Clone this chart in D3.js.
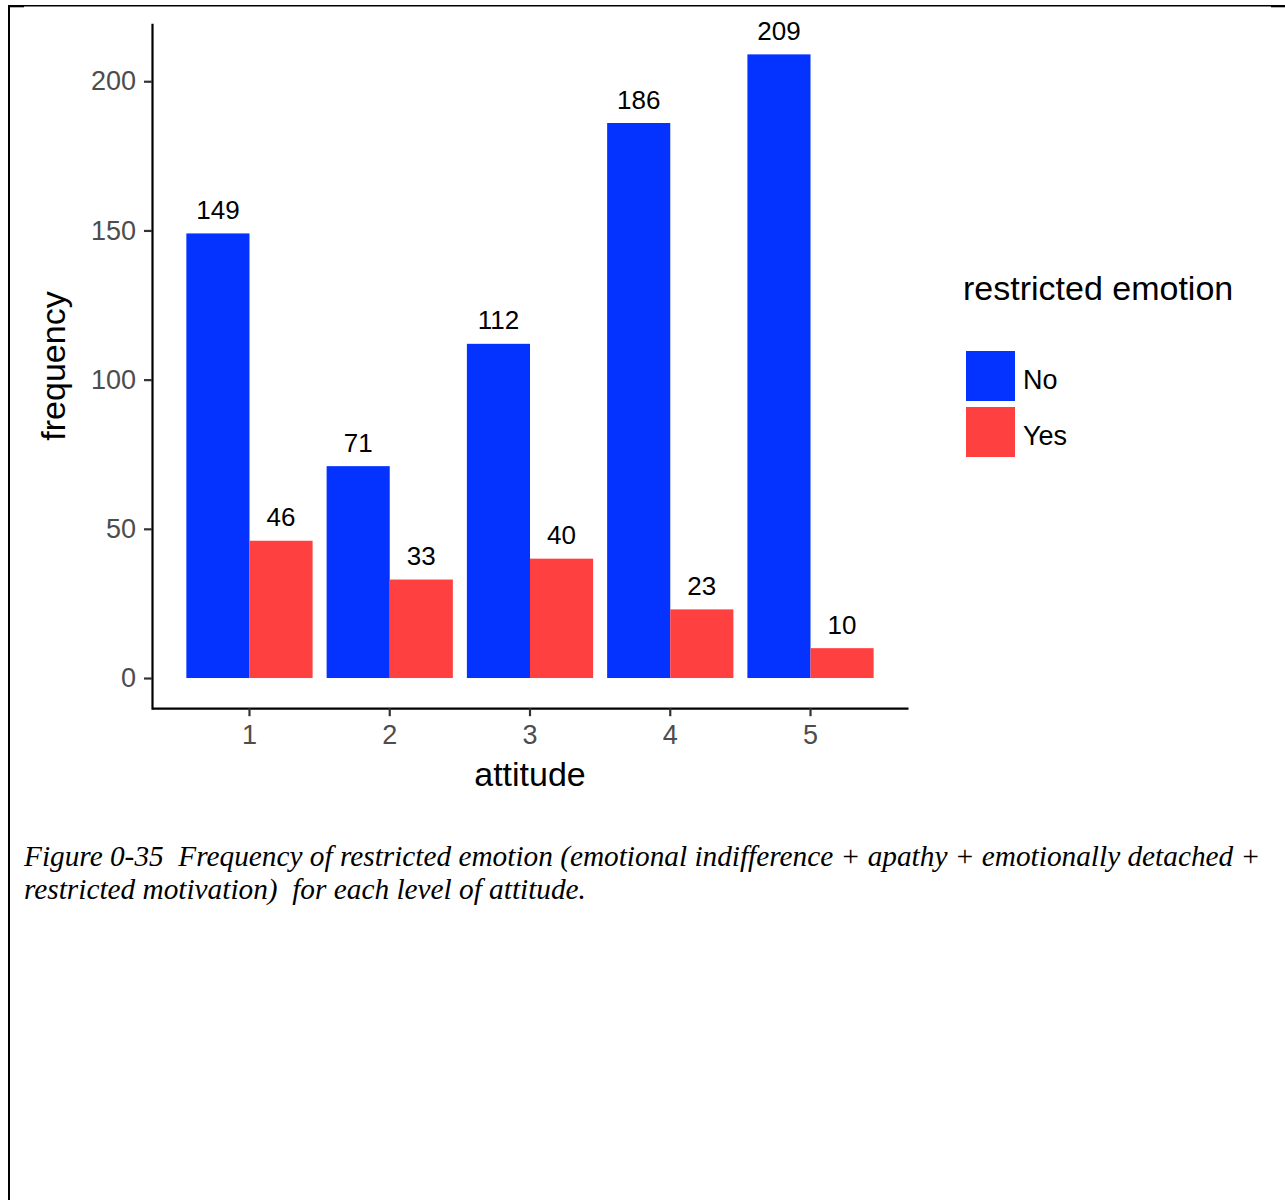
<!DOCTYPE html>
<html>
<head>
<meta charset="utf-8">
<script src="https://cdn.jsdelivr.net/npm/d3@7"></script>
<style>
  html, body { margin: 0; padding: 0; background: #fff; }
  svg { display: block; }
  text.caption { white-space: pre; }
</style>
</head>
<body>
<svg id="chart" width="1285" height="1200"></svg>
<script>
// ---- data ----
const categories = ["1", "2", "3", "4", "5"];
const seriesNames = ["No", "Yes"];
const noValues = [149, 71, 112, 186, 209];
const yesValues = [46, 33, 40, 23, 10];
const yTicks = [0, 50, 100, 150, 200];
const seriesColors = ["#0433FF", "#FF4040"];
const xTitle = "attitude";
const yTitle = "frequency";
const legendTitle = "restricted emotion";
const captionLines = [
  "Figure 0-35  Frequency of restricted emotion (emotional indifference + apathy + emotionally detached +",
  "restricted motivation)  for each level of attitude."
];

const svg = d3.select("#chart");
const sans = "'Liberation Sans', Arial, Helvetica, sans-serif";

// page frame lines
svg.append("line").attr("x1", 8).attr("x2", 1285).attr("y1", 5.75).attr("y2", 5.75)
  .attr("stroke", "#000").attr("stroke-width", 1.5);
svg.append("line").attr("x1", 9).attr("x2", 9).attr("y1", 5).attr("y2", 1200)
  .attr("stroke", "#000").attr("stroke-width", 2);
svg.append("rect").attr("x", 8).attr("y", 5).attr("width", 16).attr("height", 2.3).attr("fill", "#000");
svg.append("rect").attr("x", 1271).attr("y", 5).attr("width", 14).attr("height", 2.3).attr("fill", "#000");

// scales
const panel = { left: 152, right: 908, top: 23.2, bottom: 709.2 };
const x = d3.scaleBand().domain(categories).range([panel.left, panel.right])
  .paddingInner(0.1).paddingOuter(0.245);
const xInner = d3.scaleBand().domain(seriesNames).range([0, x.bandwidth()]).padding(0);
const y = d3.scaleLinear().domain([-10.45, 219.45]).range([panel.bottom, panel.top]);
const color = d3.scaleOrdinal().domain(seriesNames).range(seriesColors);

const rows = categories.map((c, i) => ({ cat: c, values: [
  { key: "No", value: noValues[i] },
  { key: "Yes", value: yesValues[i] }
]}));

// bars
const groups = svg.append("g").selectAll("g").data(rows).join("g")
  .attr("transform", d => `translate(${x(d.cat)},0)`);
groups.selectAll("rect").data(d => d.values).join("rect")
  .attr("x", d => xInner(d.key))
  .attr("width", xInner.bandwidth())
  .attr("y", d => y(d.value))
  .attr("height", d => y(0) - y(d.value))
  .attr("fill", d => color(d.key));
groups.selectAll("text").data(d => d.values).join("text")
  .attr("x", d => xInner(d.key) + xInner.bandwidth() / 2)
  .attr("y", d => y(d.value) - 14.5)
  .attr("text-anchor", "middle")
  .attr("font-family", sans).attr("font-size", 26).attr("fill", "#000")
  .text(d => d.value);

// axes
const yAxis = svg.append("g").attr("transform", `translate(${panel.left},0)`)
  .call(d3.axisLeft(y).tickValues(yTicks).tickSizeOuter(0).tickSizeInner(8).tickPadding(8));
const xAxis = svg.append("g").attr("transform", `translate(0,${panel.bottom - 1})`)
  .call(d3.axisBottom(x).tickSizeOuter(0).tickSizeInner(8).tickPadding(9));
[yAxis, xAxis].forEach(g => {
  g.select(".domain").attr("stroke", "#000").attr("stroke-width", 2.2);
  g.selectAll(".tick line").attr("stroke", "#333").attr("stroke-width", 2.2);
  g.selectAll(".tick text").attr("font-family", sans).attr("font-size", 27).attr("fill", "#4D4D4D");
});
xAxis.selectAll(".tick text").attr("dy", "0.71em");

// axis titles
svg.append("text").attr("x", (panel.left + panel.right) / 2).attr("y", 786)
  .attr("text-anchor", "middle").attr("font-family", sans).attr("font-size", 34).attr("fill", "#000")
  .text(xTitle);
svg.append("text").attr("transform", `translate(65,366) rotate(-90)`)
  .attr("text-anchor", "middle").attr("font-family", sans).attr("font-size", 34).attr("fill", "#000")
  .text(yTitle);

// legend
const legend = svg.append("g");
legend.append("text").attr("x", 963).attr("y", 299.5)
  .attr("font-family", sans).attr("font-size", 34).attr("fill", "#000").text(legendTitle);
const items = legend.selectAll("g.item").data(seriesNames).join("g").attr("class", "item")
  .attr("transform", (d, i) => `translate(966,${351 + i * 56})`);
items.append("rect").attr("width", 49).attr("height", 50).attr("fill", d => color(d));
items.append("text").attr("x", 57).attr("y", 37.5)
  .attr("font-family", sans).attr("font-size", 27).attr("fill", "#000").text(d => d);

// caption
svg.selectAll("text.caption").data(captionLines).join("text").attr("class", "caption")
  .attr("x", 24).attr("y", (d, i) => 866 + i * 33)
  .attr("font-family", "'Liberation Serif', 'Times New Roman', serif")
  .attr("font-style", "italic").attr("font-size", 29.3).attr("fill", "#000")
  .text(d => d);
</script>
</body>
</html>
